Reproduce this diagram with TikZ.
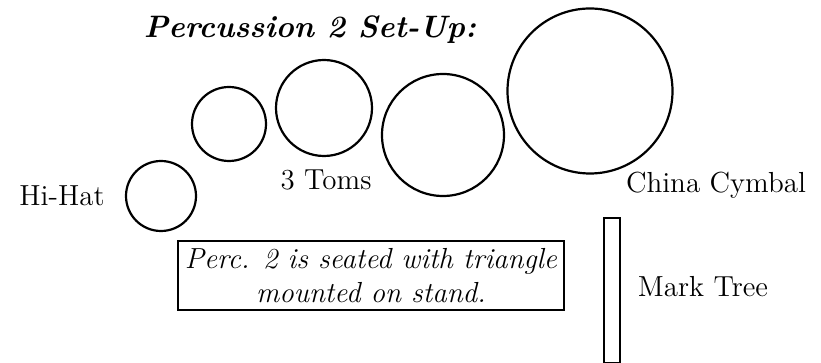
\documentclass[tikz,border=0pt]{standalone}
\usepackage{tikz}
\usetikzlibrary{positioning}
\tikzstyle{drumnode}=[black, draw=black, line width=1.1pt, shape=circle, fill=white, inner sep=0pt]
\tikzstyle{namenode}=[black, inner sep=0pt, font=\fontsize{14.5}{17}\selectfont]
\tikzstyle{notenode}=[black, draw=black, line width=1.1pt, shape=rectangle, fill=white, inner sep=2pt, align=center, font=\fontsize{14.5}{17}\selectfont\itshape]

\begin{document}
\begin{tikzpicture}[x=0.5pt, y=-0.5pt]
\useasboundingbox (0,0) rectangle (821,363);
\node [namenode, font=\fontsize{15.5}{18}\selectfont\bfseries\itshape] (title) at (310,30) {Percussion 2 Set-Up:};

\node [drumnode, minimum size=35pt] (hihat) at (161,196) {};
\node [drumnode, minimum size=37pt] (tomA) at (229,124) {};
\node [drumnode, minimum size=48pt] (tomB) at (324,108) {};
\node [drumnode, minimum size=61pt] (tomC) at (443,135) {};
\node [drumnode, minimum size=82.5pt] (china) at (590,91) {};
\node [drumnode, shape=rectangle, minimum width=8pt, minimum height=72.5pt] (tree) at (612,290.5) {};

\node [namenode] (hihatlabel) at (62,196) {Hi-Hat};
\node [namenode] (tomlabel) at (326,180) {3 Toms};
\node [namenode] (chinalabel) at (716,185) {China Cymbal};
\node [namenode] (treelabel) at (703,287) {Mark Tree};

\node [notenode, minimum width=193pt, minimum height=34.5pt] (note) at (371,275.5) {Perc. 2 is seated with triangle\\mounted on stand.};
\end{tikzpicture}
\end{document}
